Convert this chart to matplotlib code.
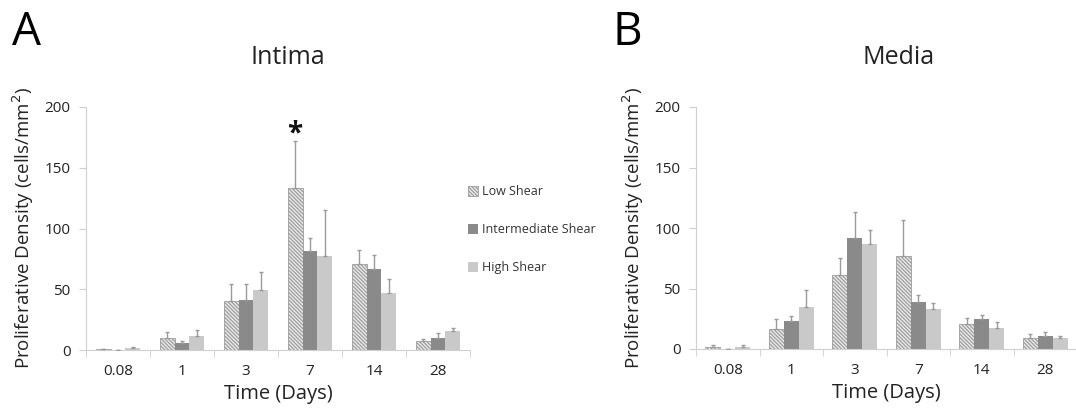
"""
Proliferative density of intima and media over time, by shear level.
Two bar panels (A: Intima, B: Media) with upward-only SD error bars.
"""

import numpy as np
import matplotlib
matplotlib.use("Agg")
import matplotlib.pyplot as plt
from matplotlib.patches import Patch

plt.rcParams["font.family"] = ["Open Sans", "DejaVu Sans"]
plt.rcParams["hatch.linewidth"] = 0.9

# Data -------------------------------------------------------------------
days = ["0.08", "1", "3", "7", "14", "28"]
series = ["Low Shear", "Intermediate Shear", "High Shear"]

intima_low = [0.5, 10, 40.5, 133, 71, 7]
intima_low_err = [0.3, 4.5, 14, 39, 11, 2]
intima_mid = [0, 5.5, 41.5, 81.5, 67, 10]
intima_mid_err = [0, 2, 13, 11, 11, 3.7]
intima_high = [1.3, 11.5, 49.5, 77, 47, 16]
intima_high_err = [0.8, 5, 14.5, 38.5, 11.5, 2]

media_low = [2, 16.5, 61, 76.5, 21, 9]
media_low_err = [1.5, 8, 14.5, 30.5, 4.5, 3.5]
media_mid = [0, 23, 92, 38.5, 25, 11]
media_mid_err = [0, 4.5, 21, 6.5, 3.3, 3.3]
media_high = [1.5, 35, 87, 33, 17, 9]
media_high_err = [2, 13.5, 11.5, 5, 5.5, 2]

# Style ------------------------------------------------------------------
AXIS_GREY = "#d0d0d0"
ERR_GREY = "#9a9a9a"
BAR_W = 0.234
styles = [
    dict(facecolor="#ececec", edgecolor="#9c9c9c", hatch="\\" * 9,
         linewidth=0.6),
    dict(facecolor="#8a8a8a", edgecolor="#8a8a8a", linewidth=0),
    dict(facecolor="#c9c9c9", edgecolor="#c9c9c9", linewidth=0),
]


def draw_panel(ax, means, errs):
    x = np.arange(len(days))
    for i, (m, e) in enumerate(zip(means, errs)):
        pos = x + (i - 1) * BAR_W
        ax.bar(pos, m, width=BAR_W, **styles[i], zorder=2)
        ax.errorbar(pos, m, yerr=[np.zeros(len(e)), e], fmt="none",
                    ecolor=ERR_GREY, elinewidth=1, capsize=1.5, capthick=1,
                    zorder=3)

    ax.set_xlim(-0.5, len(days) - 0.5)
    ax.set_ylim(0, 200)
    ax.set_yticks([0, 50, 100, 150, 200])
    ax.set_xticks(x)
    ax.set_xticklabels(days)
    ax.set_xticks(np.arange(-0.5, len(days)), minor=True)
    ax.tick_params(axis="x", which="major", length=0, pad=10,
                   labelsize=11, labelcolor="#222222")
    ax.tick_params(axis="x", which="minor", length=5, color=AXIS_GREY)
    ax.tick_params(axis="y", length=5, color=AXIS_GREY, pad=6,
                   labelsize=11, labelcolor="#222222")
    for side in ("top", "right"):
        ax.spines[side].set_visible(False)
    for side in ("left", "bottom"):
        ax.spines[side].set_color(AXIS_GREY)
    ax.set_ylabel("Proliferative Density (cells/mm$^2$)", fontsize=13.5,
                  color="#222222", labelpad=6)
    ax.set_xlabel("Time (Days)", fontsize=14.5, color="#222222", labelpad=4)


fig = plt.figure(figsize=(10.76, 4.16), dpi=100)
ax_a = fig.add_axes([86 / 1076, 66 / 416, 384 / 1076, 243 / 416])
ax_b = fig.add_axes([696 / 1076, 67 / 416, 381 / 1076, 242 / 416])

draw_panel(ax_a, [intima_low, intima_mid, intima_high],
           [intima_low_err, intima_mid_err, intima_high_err])
draw_panel(ax_b, [media_low, media_mid, media_high],
           [media_low_err, media_mid_err, media_high_err])

# significance marker over day 7 low shear
ax_a.text(3 - BAR_W, 178, "*", ha="center", va="center", fontsize=20,
          fontweight="bold", color="#111111")

# panel letters and titles
fig.text(12 / 1076, 1 - 33 / 416, "A", fontsize=33, va="center", ha="left")
fig.text(612 / 1076, 1 - 33 / 416, "B", fontsize=33, va="center", ha="left")
fig.text(288 / 1076, 1 - 57 / 416, "Intima", fontsize=18, ha="center",
         va="center", color="#222222")
fig.text(899 / 1076, 1 - 57 / 416, "Media", fontsize=18, ha="center",
         va="center", color="#222222")

handles = [Patch(**s) for s in styles]
fig.legend(handles, series, loc="upper left",
           bbox_to_anchor=(457 / 1076, 1 - 174 / 416), frameon=False,
           fontsize=9, handlelength=0.8, handleheight=0.8, handletextpad=0.3,
           labelspacing=2.0, labelcolor="#333333")

fig.savefig("out.png", dpi=100)
